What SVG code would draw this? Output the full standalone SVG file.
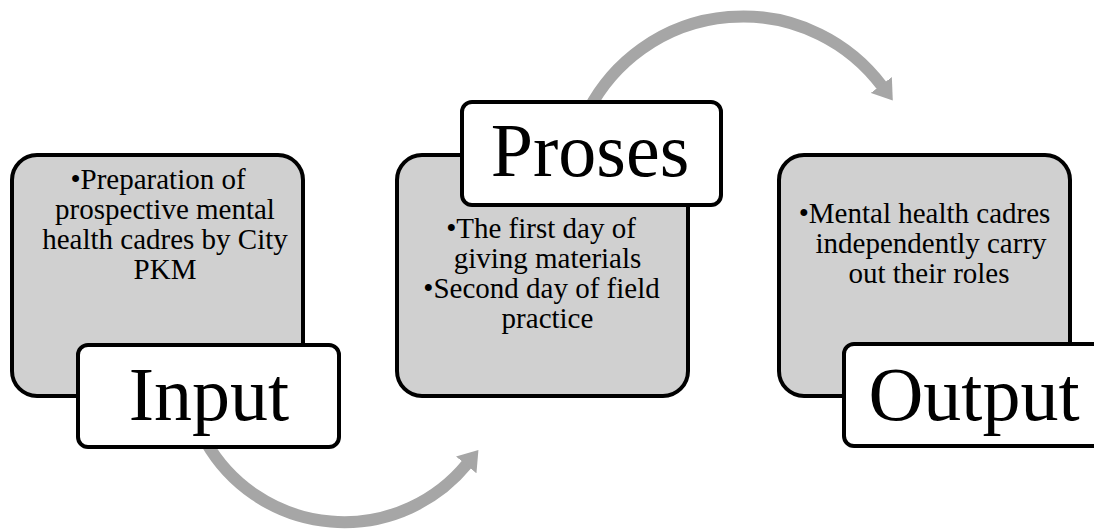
<svg xmlns="http://www.w3.org/2000/svg" width="1094" height="532" viewBox="0 0 1094 532">
  <style>
    .panel { fill: #d0d0d0; stroke: #000000; stroke-width: 4; }
    .label { fill: #ffffff; stroke: #000000; stroke-width: 4; }
    .body { font-family: "Liberation Serif", "Times New Roman", serif; font-size: 29px; fill: #000000; text-anchor: middle; }
    .title { font-family: "Liberation Serif", "Times New Roman", serif; font-size: 76px; fill: #000000; text-anchor: middle; }
    .arrow { fill: none; stroke: #a6a6a6; stroke-width: 12; marker-end: url(#head); }
  </style>
  <defs>
    <marker id="head" viewBox="0 0 16 22" refX="1" refY="11" markerWidth="1.6" markerHeight="2.2" markerUnits="strokeWidth" orient="auto">
      <path d="M0,0 L16,11 L0,22 Z" fill="#a6a6a6"/>
    </marker>
  </defs>

  <g id="connectors">
    <path class="arrow" d="M 588.5 110 A 174 174 0 0 1 882 86"/>
    <path class="arrow" d="M 206 442 A 159 159 0 0 0 467 464"/>
  </g>

  <g id="node-input">
    <rect class="panel" x="12" y="155" width="291" height="241" rx="25" ry="25"/>
    <text class="body" x="158" y="189">•Preparation of</text>
    <text class="body" x="165" y="219">prospective mental</text>
    <text class="body" x="165" y="249">health cadres by City</text>
    <text class="body" x="165" y="279">PKM</text>
    <rect class="label" x="78" y="345" width="261" height="102" rx="10" ry="10"/>
    <text class="title" x="209" y="420">Input</text>
  </g>

  <g id="node-proses">
    <rect class="panel" x="397" y="155" width="291" height="241" rx="25" ry="25"/>
    <text class="body" x="541" y="238">•The first day of</text>
    <text class="body" x="547.5" y="268">giving materials</text>
    <text class="body" x="541.5" y="298">•Second day of field</text>
    <text class="body" x="547.5" y="328">practice</text>
    <rect class="label" x="462" y="102" width="259" height="103" rx="10" ry="10"/>
    <text class="title" x="590" y="176">Proses</text>
  </g>

  <g id="node-output">
    <rect class="panel" x="779" y="155" width="291" height="241" rx="25" ry="25"/>
    <text class="body" x="924.5" y="223">•Mental health cadres</text>
    <text class="body" x="931" y="253">independently carry</text>
    <text class="body" x="929" y="283">out their roles</text>
    <rect class="label" x="844" y="344" width="261" height="102" rx="10" ry="10"/>
    <text class="title" x="974" y="420">Output</text>
  </g>
</svg>
